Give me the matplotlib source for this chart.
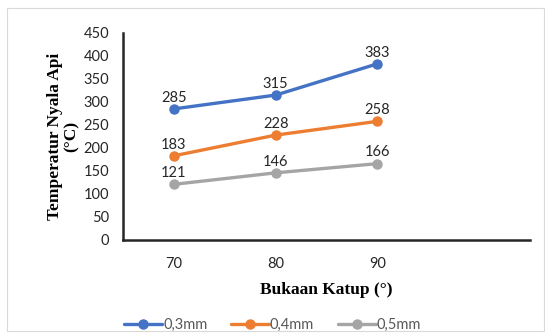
import matplotlib.pyplot as plt
from matplotlib.patches import Rectangle

categories = ['70', '80', '90']
series_names = ['0,3mm', '0,4mm', '0,5mm']
values_03 = [285, 315, 383]
values_04 = [183, 228, 258]
values_05 = [121, 146, 166]
colors = ['#4472C4', '#ED7D31', '#A5A5A5']

plt.rcParams['font.family'] = ['Lato', 'DejaVu Sans']

fig = plt.figure(figsize=(5.45, 3.35), dpi=100)
ax = fig.add_axes([0.2257, 0.2836, 0.7468, 0.6179])

# light chart frame like the Excel chart area
fig.patches.append(Rectangle((0.013, 0.012), 0.985, 0.963, transform=fig.transFigure,
                             fill=False, edgecolor='#d9d9d9', linewidth=0.8))

x = list(range(len(categories)))
for vals, name, c in zip([values_03, values_04, values_05], series_names, colors):
    ax.plot(x, vals, color=c, linewidth=2.4, marker='o', markersize=6.5, label=name,
            solid_capstyle='round')
    for xi, v in zip(x, vals):
        ax.annotate(str(v), (xi, v), xytext=(0, 3), textcoords='offset points',
                    ha='center', va='bottom', fontsize=10.5, color='#262626')

ax.set_xlim(-0.5, 3.5)
ax.set_ylim(0, 450)
ax.set_yticks(range(0, 451, 50))
ax.set_xticks(x)
ax.set_xticklabels(categories)
ax.tick_params(length=0, labelsize=10.5, colors='#262626')
ax.tick_params(axis='x', pad=12)
ax.tick_params(axis='y', pad=10)

for s in ['top', 'right']:
    ax.spines[s].set_visible(False)
for s in ['left', 'bottom']:
    ax.spines[s].set_linewidth(1.8)
    ax.spines[s].set_color('#262626')

ax.set_xlabel('Bukaan Katup (°)', fontfamily='Liberation Serif', fontweight='bold',
              fontsize=12.5, labelpad=8)
ax.set_ylabel('Temperatur Nyala Api\n(°C)', fontfamily='Liberation Serif', fontweight='bold',
              fontsize=12.5, labelpad=3, linespacing=1.0)

fig.legend(loc='center', bbox_to_anchor=(0.5, 0.03), ncol=3, frameon=False,
           fontsize=10.5, handlelength=2.6, columnspacing=1.6, handletextpad=0.1,
           labelcolor='#595959')

fig.savefig('out.png', dpi=100)
